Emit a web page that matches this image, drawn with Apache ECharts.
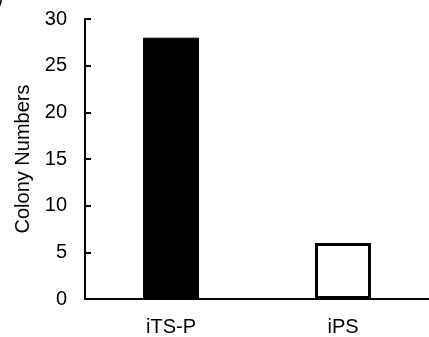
<!DOCTYPE html>
<html>
<head>
<meta charset="utf-8">
<script src="https://cdn.jsdelivr.net/npm/echarts@6/dist/echarts.min.js"></script>
<style>
  html, body { margin: 0; padding: 0; background: #fff; }
  #chart { width: 429px; height: 337px; }
</style>
</head>
<body>
<div id="chart"></div>
<script>
// Data
const categories = ['iTS-P', 'iPS'];
const colonyNumbers = [28, 6];
const yTicks = { min: 0, max: 30, interval: 5 };

const chart = echarts.init(document.getElementById('chart'));

const font = 'Liberation Sans, Arial, sans-serif';

const option = {
    animation: false,
    backgroundColor: '#fff',
    grid: { left: 85, right: -6, top: 19, bottom: 38 },
    xAxis: {
        type: 'category',
        data: categories,
        axisLine: { lineStyle: { color: '#000', width: 2 } },
        axisTick: { inside: true, length: 6, lineStyle: { color: '#000', width: 2 } },
        axisLabel: { color: '#000', fontSize: 20, fontFamily: font, margin: 18 }
    },
    yAxis: {
        type: 'value',
        min: yTicks.min, max: yTicks.max, interval: yTicks.interval,
        name: 'Colony Numbers',
        nameLocation: 'middle',
        nameGap: 49,
        nameTextStyle: { color: '#000', fontSize: 20, fontFamily: font },
        axisLine: { show: true, lineStyle: { color: '#000', width: 2 } },
        axisTick: { show: true, inside: true, length: 6, lineStyle: { color: '#000', width: 2 } },
        axisLabel: { color: '#000', fontSize: 20, fontFamily: font, margin: 18 },
        splitLine: { show: false }
    },
    graphic: [{
        type: 'text', left: -3, top: -10,
        style: { text: ')', fontSize: 18, fontFamily: font, fill: '#000' }
    }],
    series: [{
        type: 'bar',
        barWidth: 56,
        data: colonyNumbers.map((v, i) => ({
            value: v,
            itemStyle: i === 0
                ? { color: '#000', borderColor: '#000', borderWidth: 1 }
                : { color: '#fff', borderColor: '#000', borderWidth: 3 }
        }))
    }]
};
chart.setOption(option);
</script>
</body>
</html>
